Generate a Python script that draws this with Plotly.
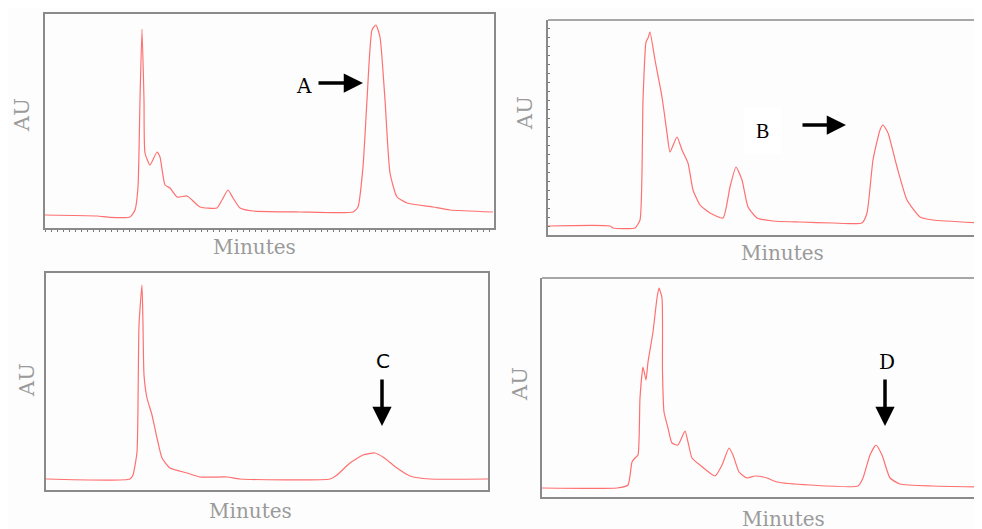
import plotly.graph_objects as go

# ---- data (x: minutes, y: mAU) ----
a_min = [0, 5.2, 6.5, 8.5, 9.0, 9.3, 9.5, 9.7, 9.9, 10.0, 10.5, 11.2, 11.5, 12.0, 12.5, 13.2, 14.2, 14.7,
         15.5, 17.2, 17.7, 18.3, 18.8, 19.5, 20.8, 25.5, 30.8, 31.3, 31.8, 32.2, 32.7, 33.1, 33.5, 34.0,
         34.5, 35.2, 36.2, 38.8, 40.5, 44.8]
a_au = [13, 12, 10.7, 11, 18, 41, 128, 199, 128, 75, 63, 76, 71, 43, 40, 31, 32, 28,
        21, 20, 28, 38, 30, 20, 17, 16, 16, 21, 61, 128, 198, 203, 191, 128,
        55, 31, 25, 21, 18, 16]

b_min = [0, 6.2, 6.5, 8.7, 9.2, 9.5, 9.8, 10.0, 10.2, 10.7, 11.4, 11.9, 12.2, 12.9, 13.4, 14.0, 14.5,
         15.2, 16.2, 17.5, 18.2, 18.8, 19.4, 20.0, 20.9, 22.5, 25.2, 28.5, 31.4, 31.9, 32.5, 33.2, 33.5,
         34.0, 34.9, 35.9, 37.2, 38.5, 43.4]
b_au = [9, 9, 7, 7, 15, 135, 193, 197, 203, 175, 138, 102, 83, 98, 85, 72, 45,
        30, 22, 17, 48, 68, 55, 28, 17, 14, 13, 12, 12, 22, 75, 105, 110,
        102, 68, 35, 18, 15, 12]

c_min = [0, 8.4, 8.7, 9.1, 9.3, 9.6, 9.7, 9.8, 10.1, 10.6, 11.1, 11.6, 12.4, 14.1, 15.4, 18.1, 19.4,
         28.4, 29.1, 30.4, 31.7, 32.9, 33.7, 35.1, 36.4, 38.4, 44.2]
c_au = [11, 11, 15, 38, 165, 205, 165, 115, 92, 75, 52, 32, 22, 17, 13, 13, 11,
        11, 15, 27, 35, 37, 33, 22, 14, 11, 11]

d_min = [0, 7.5, 8.6, 9.0, 9.3, 9.6, 9.8, 10.1, 10.4, 10.6, 11.1, 11.5, 11.7, 12.0, 12.05, 12.2, 12.6,
         13.0, 13.6, 14.3, 14.6, 15.0, 15.8, 17.3, 18.0, 18.7, 19.1, 19.7, 20.5, 21.3, 22.5, 23.5, 26.8,
         31.6, 32.1, 32.8, 33.4, 34.0, 34.8, 35.8, 39.1, 44.0]
d_au = [9, 9, 12, 35, 39, 42, 99, 130, 117, 135, 165, 199, 209, 199, 125, 85, 69,
        54, 52, 66, 55, 39, 32, 21, 32, 49, 42, 25, 19, 21, 19, 15, 12,
        11, 19, 42, 52, 42, 19, 13, 11, 10]

panel_labels = ["A", "B", "C", "D"]
x_title = "Minutes"
y_title = "AU"

# page body has an 8px margin: figure is placed at (8, 8) in the window
OFF = 8
W, H = 982 - OFF, 529 - OFF
LINE = "#ff7070"
GREY = "#8a8a8a"
TXT = "#9a9a9a"

def px(x):
    return (x - OFF) / W

def py(y):
    return (H - (y - OFF)) / H

fig = go.Figure()
series = [(a_min, a_au), (b_min, b_au), (c_min, c_au), (d_min, d_au)]
for i, (xs, ys) in enumerate(series):
    sfx = "" if i == 0 else str(i + 1)
    fig.add_trace(go.Scatter(x=xs, y=ys, mode="lines", xaxis="x" + sfx, yaxis="y" + sfx,
                             line=dict(color=LINE, width=1.2, shape="spline", smoothing=0.5),
                             showlegend=False, hoverinfo="skip"))

# panel boxes in window pixels: left, right, top, bottom
boxes = [(45, 494, 14, 228), (548, 982, 20, 235), (46, 488, 273, 490), (542, 982, 278, 497)]
xranges = [[0, 44.9], [0, 43.4], [0, 44.2], [0, 44.0]]
yranges = [[0, 214], [0, 215], [0, 217], [0, 219]]
mirror = [True, False, True, False]

layout = dict(width=W, height=H, margin=dict(l=0, r=0, t=0, b=0),
              paper_bgcolor="#fdfdfd", plot_bgcolor="#fdfdfd")
shapes = []
for i, (l, r, t, b) in enumerate(boxes):
    sfx = "" if i == 0 else str(i + 1)
    xa = dict(domain=[px(l), min(1.0, px(r))], range=xranges[i], showgrid=False, zeroline=False,
              showticklabels=False, showline=True, linecolor=GREY, linewidth=1.5,
              mirror=mirror[i], anchor="y" + sfx, fixedrange=True)
    ya = dict(domain=[py(b), py(t)], range=yranges[i], showgrid=False, zeroline=False,
              showticklabels=False, showline=True, linecolor=GREY, linewidth=1.5,
              mirror=mirror[i], anchor="x" + sfx, fixedrange=True)
    if i == 0:
        xa.update(ticks="outside", ticklen=2, tickcolor="#777", dtick=0.6, tick0=0)
    if i == 1:
        ya.update(ticks="inside", ticklen=2, tickcolor="#777", dtick=9, tick0=0)
    layout["xaxis" + sfx] = xa
    layout["yaxis" + sfx] = ya
    if not mirror[i]:
        shapes.append(dict(type="line", xref="x%s domain" % sfx, yref="y%s domain" % sfx,
                           x0=0, x1=1, y0=1, y1=1, line=dict(color=GREY, width=1.5)))
layout["shapes"] = shapes

annots = []
minutes_pos = [(254, 247), (782, 253), (250, 511), (783, 519)]
au_pos = [(22, 115), (525, 113), (27, 380), (520, 384)]
for (x, y) in minutes_pos:
    annots.append(dict(x=px(x), y=py(y), xref="paper", yref="paper", text=x_title, showarrow=False,
                       xanchor="center", yanchor="middle",
                       font=dict(family="DejaVu Serif", size=20, color=TXT)))
for (x, y) in au_pos:
    annots.append(dict(x=px(x), y=py(y), xref="paper", yref="paper", text=y_title, showarrow=False,
                       xanchor="center", yanchor="middle", textangle=-90,
                       font=dict(family="DejaVu Serif", size=21, color=TXT)))

# panel letters
letter_pos = [(304, 86), (762, 131), (383, 361), (887, 362)]
letter_font = ["DejaVu Serif", "Liberation Serif", "DejaVu Sans", "DejaVu Serif"]
for k, (x, y) in enumerate(letter_pos):
    annots.append(dict(x=px(x), y=py(y), xref="paper", yref="paper", text=panel_labels[k],
                       showarrow=False, xanchor="center", yanchor="middle",
                       font=dict(family=letter_font[k], size=20, color="black"),
                       bgcolor="white" if k == 1 else None, borderpad=12 if k == 1 else 1))

# arrows (head position, tail offset)
arrows = [((363, 83), (-46, 0)), ((846, 125), (-45, 0)), ((382, 426), (0, -48)), ((885, 426), (0, -48))]
for (hx, hy), (ax, ay) in arrows:
    annots.append(dict(x=px(hx), y=py(hy), xref="paper", yref="paper", text="", showarrow=True,
                       ax=ax, ay=ay, arrowhead=2, arrowsize=1.1, arrowwidth=3.5, arrowcolor="black"))
layout["annotations"] = annots

fig.update_layout(**layout)
fig.write_html("out.html")
